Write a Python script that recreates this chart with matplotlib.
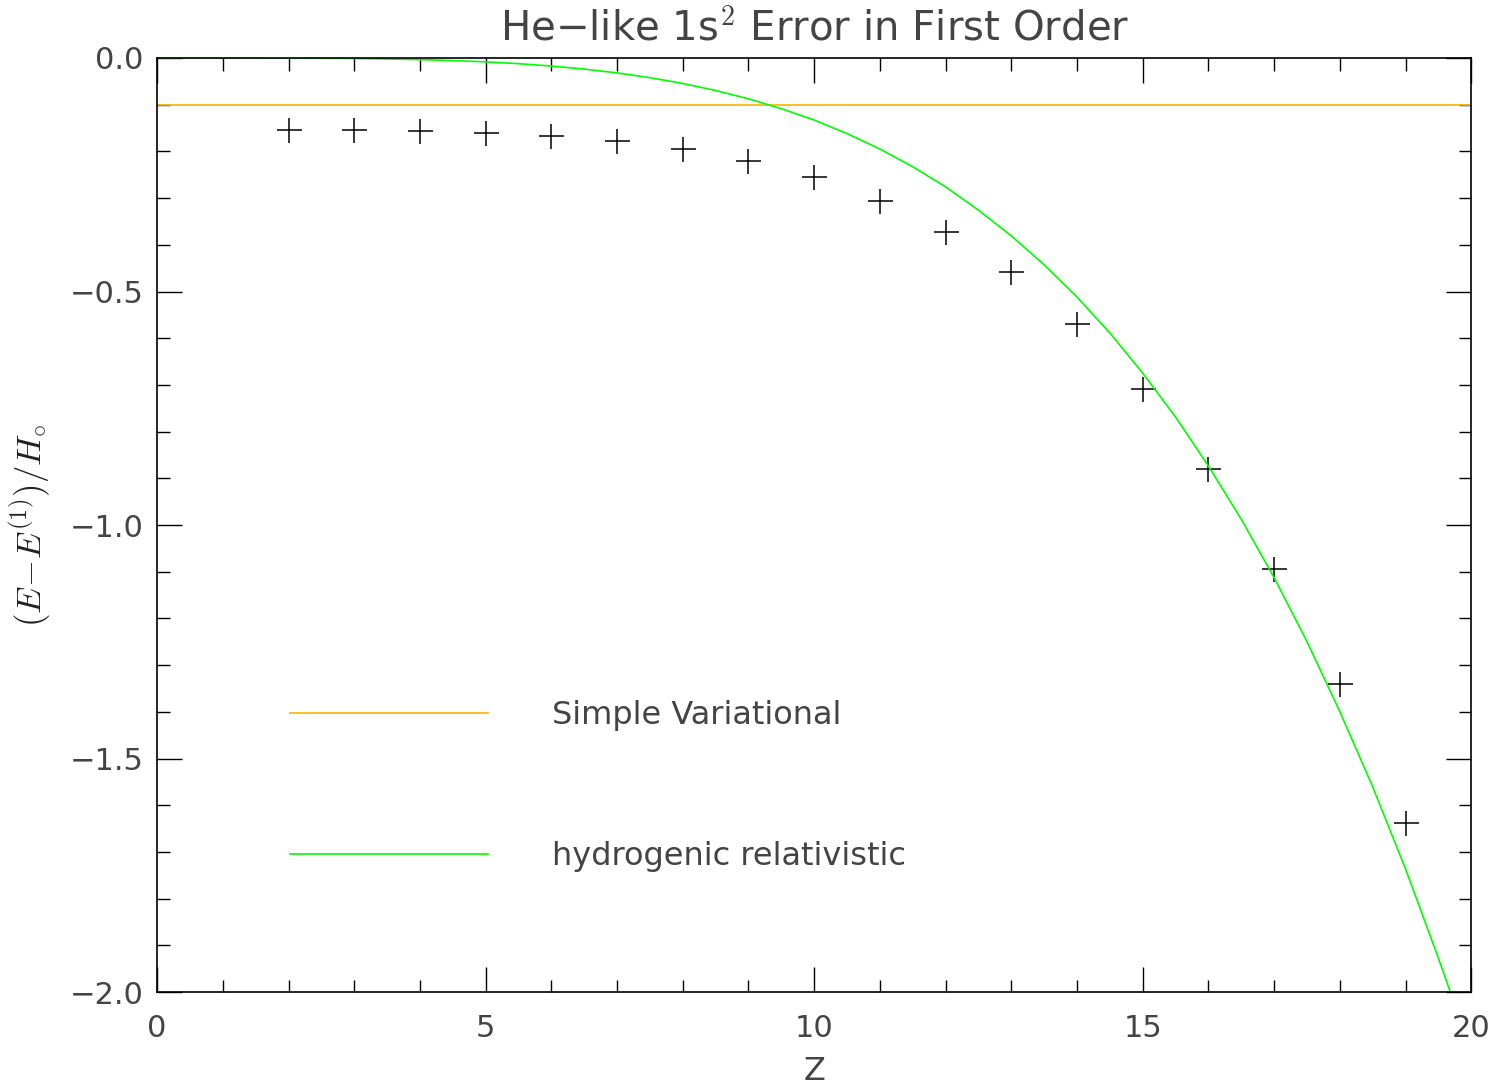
import matplotlib
matplotlib.use("Agg")
from matplotlib import pyplot as plt
from matplotlib.ticker import MultipleLocator, FuncFormatter

# He-like 1s^2 error values
z_pts = [2, 3, 4, 5, 6, 7, 8, 9, 10, 11, 12, 13, 14, 15, 16, 17, 18, 19]
err_pts = [-0.154, -0.154, -0.156, -0.161, -0.167, -0.178, -0.195, -0.221, -0.255,
           -0.306, -0.373, -0.458, -0.570, -0.709, -0.880, -1.094, -1.341, -1.638]

# simple variational (flat line)
var_z = [0, 20]
var_err = [-0.1, -0.1]

# hydrogenic relativistic curve, read at half-unit steps
hyd_z = [0, 1, 2, 3, 4, 4.5, 5, 5.5, 6, 6.5, 7, 7.5, 8, 8.5, 9, 9.5, 10, 10.5,
         11, 11.5, 12, 12.5, 13, 13.5, 14, 14.5, 15, 15.5, 16, 16.5, 17, 17.5,
         18, 18.5, 19, 19.5, 19.68]
hyd_err = [0.0, -0.00001, -0.0002, -0.0011, -0.0034, -0.0055, -0.0083, -0.0122,
           -0.0173, -0.0238, -0.032, -0.0422, -0.0546, -0.0696, -0.0875, -0.1086,
           -0.133, -0.162, -0.195, -0.233, -0.276, -0.326, -0.381, -0.443,
           -0.512, -0.589, -0.675, -0.769, -0.874, -0.988, -1.113, -1.250,
           -1.40, -1.561, -1.737, -1.928, -2.0]

plt.rcParams['font.family'] = ['DejaVu Sans']
plt.rcParams['mathtext.fontset'] = 'cm'

txt = '#444444'

fig = plt.figure(figsize=(14.96, 10.86), dpi=100)
ax = fig.add_axes([0.105, 0.0865, 0.8785, 0.8601])

ax.plot(z_pts, err_pts, linestyle='none', marker='+', color='black',
        markersize=18, markeredgewidth=1.1)
ax.plot(var_z, var_err, color='#ffb000', lw=1.2, label='Simple Variational')
ax.plot(hyd_z, hyd_err, color='#00ff00', lw=1.2, label='hydrogenic relativistic')

ax.set_xlim(0, 20)
ax.set_ylim(-2.0, 0.0)
ax.xaxis.set_major_locator(MultipleLocator(5))
ax.xaxis.set_minor_locator(MultipleLocator(1))
ax.yaxis.set_major_locator(MultipleLocator(0.5))
ax.yaxis.set_minor_locator(MultipleLocator(0.1))
ax.yaxis.set_major_formatter(FuncFormatter(lambda v, p: f"{v:.1f}".replace('-', '\u2212')))
ax.tick_params(which='both', direction='in', top=True, right=True,
               labelsize=22, labelcolor=txt, width=1)
ax.tick_params(which='major', length=18)
ax.tick_params(axis='y', which='major', pad=10)
ax.tick_params(axis='x', which='major', pad=16)
ax.tick_params(which='minor', length=9)
for s in ax.spines.values():
    s.set_linewidth(1.2)

ax.set_title('He\u2212like 1s$^{2}$ Error in First Order', fontsize=29,
             color=txt, pad=13)
ax.set_xlabel('Z', fontsize=23, color=txt)
ax.xaxis.set_label_coords(0.5, -0.068)
ax.set_ylabel(r'$(E\!-\!E^{(1)})/H_{\circ}$', fontsize=25, color='#222222')
ax.yaxis.set_label_coords(-0.079, 0.5)

ax.legend(loc='upper left', bbox_to_anchor=(0.101, 0.313), frameon=False,
          fontsize=23, handlelength=6.2, handletextpad=2.0, labelspacing=3.45,
          borderpad=0, borderaxespad=0, labelcolor=txt)

plt.savefig('out.png', dpi=100)
